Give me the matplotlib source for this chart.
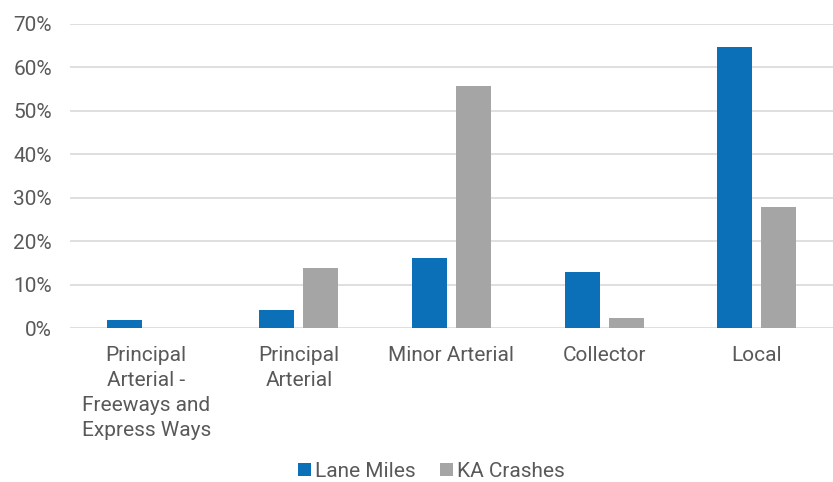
import numpy as np
import matplotlib.pyplot as plt
from matplotlib.ticker import PercentFormatter

# road classes and shares
categories = ["Principal\nArterial -\nFreeways and\nExpress Ways",
              "Principal\nArterial",
              "Minor Arterial",
              "Collector",
              "Local"]
lane_miles = [1.8, 4.2, 16.1, 12.9, 64.6]
ka_crashes = [0.0, 13.9, 55.6, 2.4, 27.8]
y_ticks = [0, 10, 20, 30, 40, 50, 60, 70]

plt.rcParams['font.family'] = ['Roboto', 'DejaVu Sans']
text_color = '#595959'

fig = plt.figure(figsize=(8.33, 4.82), dpi=100)
ax = fig.add_axes([0.084, 0.319, 0.916, 0.632])

x = np.arange(len(categories))
w = 0.23
off = 0.144
ax.bar(x - off, lane_miles, w, color='#0b70b7', label='Lane Miles', zorder=3)
ax.bar(x + off, ka_crashes, w, color='#a5a5a5', label='KA Crashes', zorder=3)

ax.set_xlim(-0.5, len(categories) - 0.5)
ax.set_ylim(0, 70)
ax.set_yticks(y_ticks)
ax.yaxis.set_major_formatter(PercentFormatter(decimals=0))
ax.grid(axis='y', color='#d9d9d9', linewidth=1.2, zorder=0)
ax.set_axisbelow(True)
for s in ax.spines.values():
    s.set_visible(False)

ax.set_xticks(x)
ax.set_xticklabels(categories, linespacing=1.4)
ax.tick_params(axis='both', length=0, labelsize=15, colors=text_color)
ax.tick_params(axis='y', pad=13)
ax.tick_params(axis='x', pad=13)

fig.legend(loc='lower center', bbox_to_anchor=(0.518, 0.002), ncol=2,
           frameon=False, fontsize=15, labelcolor=text_color,
           handlelength=0.6, handleheight=0.6, handletextpad=0.2,
           columnspacing=1.2, borderpad=0, borderaxespad=0)

fig.savefig('out.png', dpi=100)
